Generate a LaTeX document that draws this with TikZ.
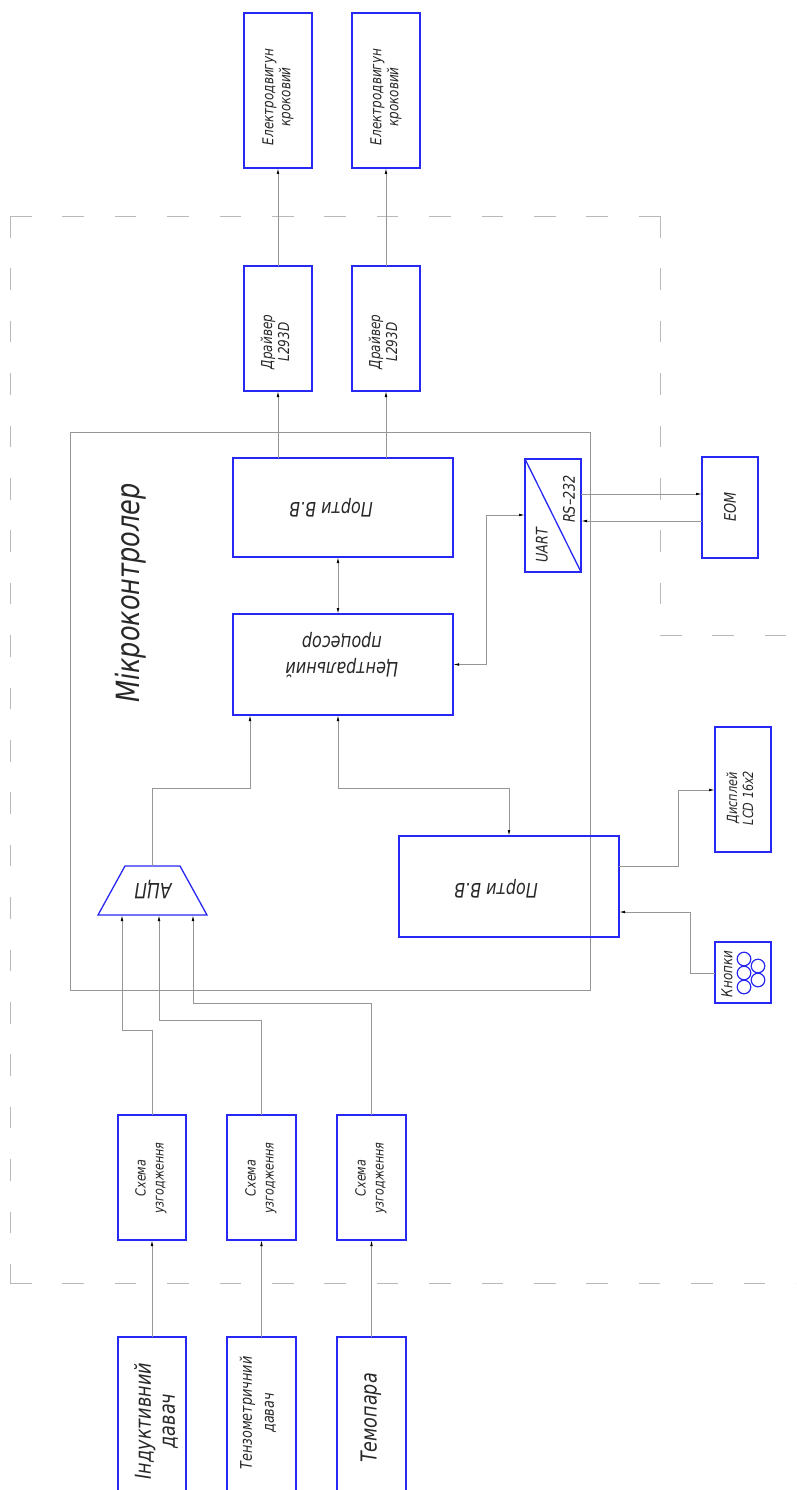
\documentclass[tikz,border=0pt]{standalone}
\usepackage{fontspec}
\newfontfamily\gostbase[FakeStretch=0.8]{DejaVu Sans}
\newcommand{\gost}{\gostbase\itshape}
\usetikzlibrary{arrows.meta,calc}
\definecolor{boxblue}{RGB}{40,40,245}
\definecolor{wiregray}{RGB}{150,150,150}
\definecolor{dashgray}{RGB}{185,185,185}
\definecolor{txt}{RGB}{40,40,40}
\begin{document}
\begin{tikzpicture}[x=1pt,y=-1pt,
 box/.style={draw=boxblue, line width=1.3pt, anchor=north west, inner sep=0pt, outer sep=0pt},
 mcubox/.style={draw=wiregray, line width=0.8pt, anchor=north west, inner sep=0pt, outer sep=0pt},
 wire/.style={draw=wiregray, line width=0.8pt},
 arr/.style={wire, -{Latex[length=6pt,width=2.6pt,color=black]}},
 darr/.style={wire, {Latex[length=6pt,width=2.6pt,color=black]}-{Latex[length=6pt,width=2.6pt,color=black]}},
 lbl/.style={font=\gost\fontsize{15}{17}\selectfont, text=txt, align=center, inner sep=0pt},
 dashline/.style={draw=dashgray, line width=1pt, dash pattern=on 21.5pt off 30.9pt},
]
\fill[white] (0,0) rectangle (796,1490);
\useasboundingbox (0,0) rectangle (796,1490);

% dashed boundary (each side starts at a corner)
\coordinate (c1) at (10,216);
\coordinate (c2) at (660,216);
\coordinate (c3) at (660,635);
\coordinate (c4) at (796,635);
\coordinate (c5) at (10,1283);
\coordinate (c6) at (796,1283);
\draw[dashline] (c1) -- (c2);
\draw[dashline] (c2) -- (c3);
\draw[dashline] (c3) -- (c4);
\draw[dashline] (c1) -- (c5);
\draw[dashline] (c5) -- (c6);

% microcontroller
\node[mcubox, minimum width=520, minimum height=558] (mcu) at (70,432) {};
\node[lbl, rotate=90, font=\gost\fontsize{32}{36}\selectfont] (mcut) at (131,593) {Мікроконтролер};

% motors
\node[box, minimum width=68, minimum height=155] (m1) at (244,13) {};
\node[box, minimum width=68, minimum height=155] (m2) at (352,13) {};
\node[lbl, rotate=90] (m1t) at (278,97) {Електродвигун\\кроковий};
\node[lbl, rotate=90] (m2t) at (386,97) {Електродвигун\\кроковий};

% drivers
\node[box, minimum width=68, minimum height=125] (d1) at (244,266) {};
\node[box, minimum width=68, minimum height=125] (d2) at (352,266) {};
\node[lbl, rotate=90] (d1t) at (275,342) {Драйвер\\L293D};
\node[lbl, rotate=90] (d2t) at (383,342) {Драйвер\\L293D};

% ports 1 and CPU
\node[box, minimum width=220, minimum height=99] (p1) at (233,458) {};
\node[lbl, rotate=180, font=\gost\fontsize{20}{26}\selectfont] (p1t) at (331,508) {Порти В.В};
\node[box, minimum width=220, minimum height=101] (cpu) at (233,614) {};
\node[lbl, rotate=180, font=\gost\fontsize{20}{26}\selectfont] (cput) at (342,655) {Центральний\\процесор};

% UART
\node[box, minimum width=56, minimum height=113] (uart) at (525,459) {};
\draw[boxblue, line width=1.3pt] (uart.north west) -- (uart.south east);
\node[lbl, rotate=90, font=\gost\fontsize{16}{18}\selectfont] (uartt) at (542,545) {UART};
\node[lbl, rotate=90, font=\gost\fontsize{16}{18}\selectfont] (rst) at (569,499) {RS–232};

% EOM
\node[box, minimum width=56, minimum height=101] (eom) at (702,457) {};
\node[lbl, rotate=90, font=\gost\fontsize{16}{18}\selectfont] (eomt) at (730,507) {ЕОМ};

% ADC
\draw[boxblue, line width=1.3pt] (125,866) -- (180,866) -- (207,915) -- (98,915) -- cycle;
\coordinate (adcTop) at (152.5,866);
\coordinate (adcB) at (0,915);
\node[lbl, rotate=180, font=\gost\fontsize{21}{24}\selectfont] (adct) at (153,889) {АЦП};

% ports 2
\node[box, minimum width=220, minimum height=101] (p2) at (399,836) {};
\node[lbl, rotate=180, font=\gost\fontsize{20}{26}\selectfont] (p2t) at (496,889) {Порти В.В};

% display
\node[box, minimum width=56, minimum height=125] (disp) at (715,727) {};
\node[lbl, rotate=90, font=\gost\fontsize{14}{16}\selectfont] (dispt) at (740,798) {Дисплей\\LCD 16x2};

% buttons
\node[box, minimum width=56, minimum height=61] (btn) at (715,942) {};
\node[lbl, rotate=90, font=\gost\fontsize{15}{17}\selectfont] (btnt) at (727,974) {Кнопки};
\foreach \cx/\cy in {744/959, 744/973, 744/987, 758/966, 758/980}
  \draw[boxblue, line width=1.2pt] (\cx,\cy) circle (6.8);

% matching circuits
\node[box, minimum width=68, minimum height=125] (s1) at (118,1115) {};
\node[box, minimum width=69, minimum height=125] (s2) at (227,1115) {};
\node[box, minimum width=69, minimum height=125] (s3) at (337,1115) {};
\node[lbl, rotate=90, font=\gost\fontsize{14}{18}\selectfont] (s1t) at (151,1178) {Схема\\узгодження};
\node[lbl, rotate=90, font=\gost\fontsize{14}{18}\selectfont] (s2t) at (261,1178) {Схема\\узгодження};
\node[lbl, rotate=90, font=\gost\fontsize{14}{18}\selectfont] (s3t) at (371,1178) {Схема\\узгодження};

% sensors
\node[box, minimum width=68, minimum height=165] (i1) at (118,1337) {};
\node[box, minimum width=69, minimum height=165] (i2) at (227,1337) {};
\node[box, minimum width=69, minimum height=165] (i3) at (337,1337) {};
\node[lbl, rotate=90, font=\gost\fontsize{22}{24}\selectfont] (i1t) at (156,1421) {Індуктивний\\давач};
\node[lbl, rotate=90, font=\gost\fontsize{16}{22}\selectfont] (i2t) at (258,1413) {Тензометричний\\давач};
\node[lbl, rotate=90, font=\gost\fontsize{22}{24}\selectfont] (i3t) at (371,1418) {Темопара};

% connectors
\draw[arr] (d1.north) -- (m1.south);
\draw[arr] (d2.north) -- (m2.south);
\draw[arr] (d1.south |- p1.north) -- (d1.south);
\draw[arr] (d2.south |- p1.north) -- (d2.south);
\coordinate (kp) at (338,560);
\draw[darr] (kp |- p1.south) -- (kp |- cpu.north);

\coordinate (jU) at (486,515);
\draw[darr] (cpu.east) -| (jU) -- (jU -| uart.west);

\coordinate (yA) at (0,494);
\coordinate (yB) at (0,521);
\draw[arr] (uart.east |- yA) -- (eom.west |- yA);
\draw[arr] (eom.west |- yB) -- (uart.east |- yB);

\coordinate (k1) at (250,788);
\draw[arr] (adcTop) |- (k1) -- (k1 |- cpu.south);

\coordinate (k2) at (338,788);
\draw[darr] (k2 |- cpu.south) -- (k2) -| (p2.north);

\coordinate (k3) at (678,866);
\coordinate (k4) at (678,790);
\draw[arr] (p2.east |- k3) -- (k3) -- (k4) -- (k4 -| disp.west);

\coordinate (k5) at (690,973);
\coordinate (k6) at (690,912);
\draw[arr] (k5 -| btn.west) -- (k5) -- (k6) -- (k6 -| p2.east);

\coordinate (a1) at (122,1030);
\coordinate (a2) at (159,1020);
\coordinate (a3) at (193,1003);
\draw[arr] (s1.north) |- (a1) -- (a1 |- adcB);
\draw[arr] (s2.north) |- (a2) -- (a2 |- adcB);
\draw[arr] (s3.north) |- (a3) -- (a3 |- adcB);

\draw[arr] (i1.north) -- (s1.south);
\draw[arr] (i2.north) -- (s2.south);
\draw[arr] (i3.north) -- (s3.south);
\end{tikzpicture}
\end{document}
